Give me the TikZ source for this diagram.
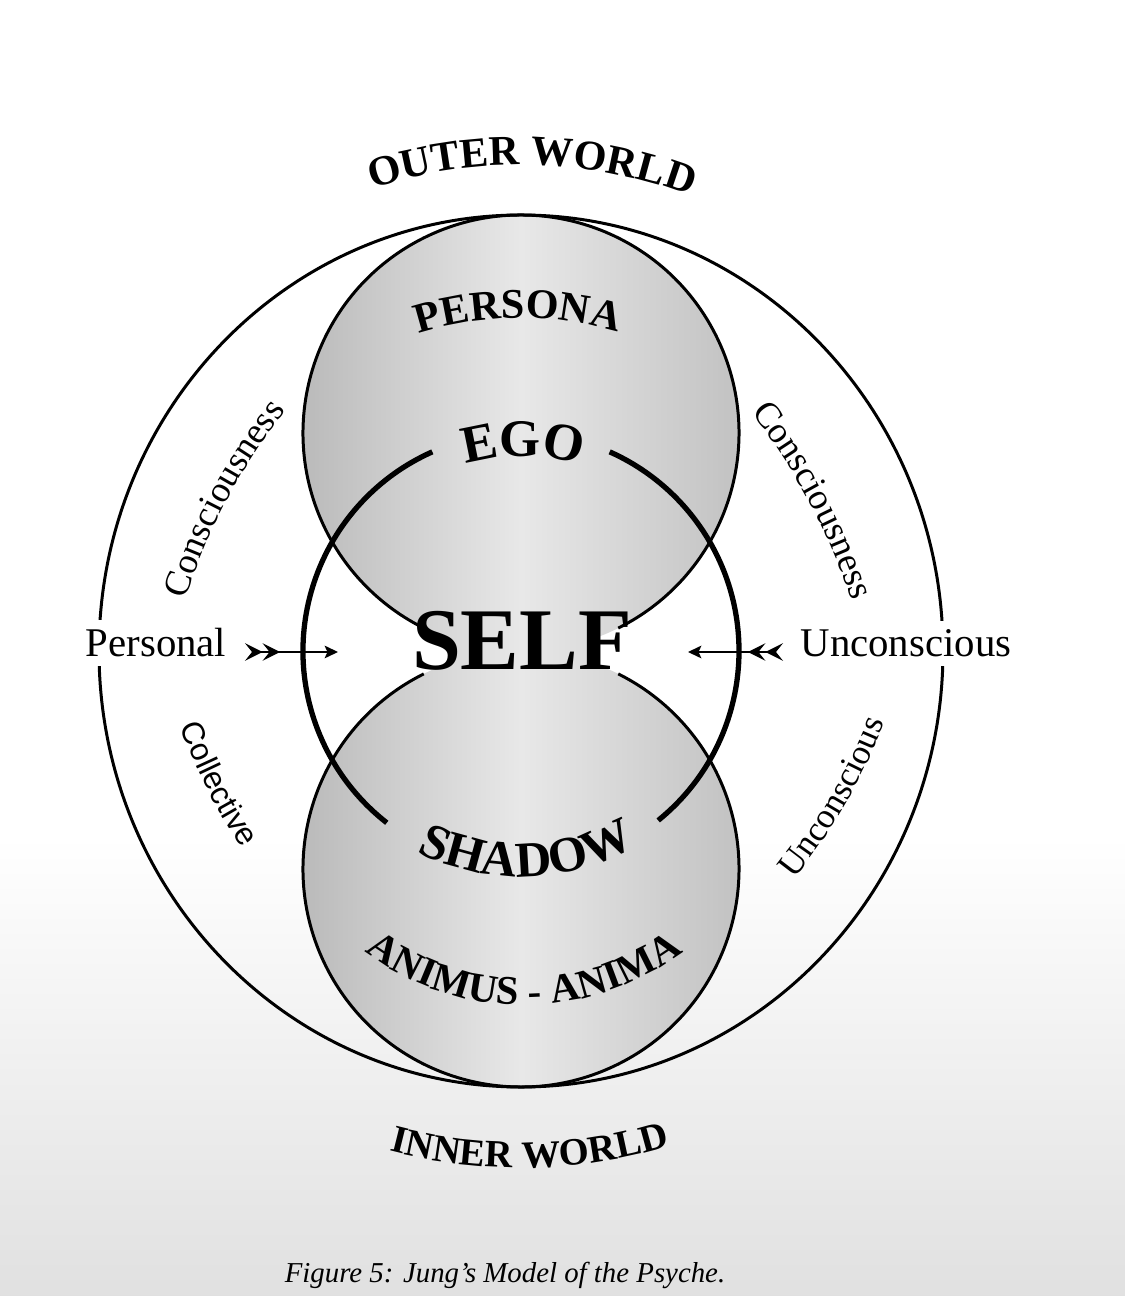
\documentclass[tikz,border=0pt]{standalone}
\usepackage{fontspec}
\setmainfont{Liberation Serif}
\newfontfamily\collfont{Liberation Sans}
\usetikzlibrary{positioning, arrows.meta, decorations.text}

\newcommand{\worldfont}{\bfseries\fontsize{12}{14}\selectfont}
\newcommand{\innerfont}{\bfseries\fontsize{11}{13}\selectfont}
\newcommand{\egofont}{\bfseries\fontsize{15}{17}\selectfont}
\newcommand{\shadowfont}{\bfseries\fontsize{14.3}{16}\selectfont}
\newcommand{\animafont}{\bfseries\fontsize{11.6}{13}\selectfont}
\newcommand{\consfont}{\fontsize{10.4}{12}\selectfont}
\newcommand{\uncfont}{\fontsize{10}{12}\selectfont}
\newcommand{\collfontsize}{\collfont\fontsize{9}{11}\selectfont}

\tikzset{
  ring/.style={line width=0.85pt},
  selfring/.style={line width=1.5pt},
  psyche/.style={left color=black!27, right color=black!24, middle color=black!9},
  curved/.style={decorate, decoration={text along path, text align=center, text={#1}}},
  side/.style={fill=white, inner xsep=1pt, inner ysep=2.5pt, font=\fontsize{11.6}{13}\selectfont},
  flight/.style={line width=0.45pt,
    {Stealth[reversed,length=5pt,width=5pt,inset=2pt]Stealth[reversed,length=5pt,width=5pt,inset=2pt]}-{Stealth[length=3.8pt,width=3.6pt,inset=0.8pt]}},
}

\begin{document}
\begin{tikzpicture}[x=0.01cm, y=0.01cm]
  % page
  \useasboundingbox (0,0) rectangle (1125,1296);
  \fill[white] (0,0) rectangle (1125,1296);
  \shade[top color=white, bottom color=black!12] (0,0) rectangle (1125,460);

  % ego and shadow spheres, outline open under SELF
  \shade[psyche] (521,863) circle[radius=218];
  \shade[psyche] (521,427) circle[radius=218];
  \begin{scope}
    \clip (452,630) rectangle (592,666);
    \shade[psyche] (303,630) rectangle (739,666);
  \end{scope}
  \draw[ring, shift={(521,863)}] (-63.5:218) arc[start angle=-63.5, end angle=243.5, radius=218];
  \draw[ring, shift={(521,427)}] (116.5:218) arc[start angle=116.5, end angle=423.5, radius=218];

  % outer boundary
  \draw[ring] (521,645) ellipse[x radius=422, y radius=436];

  % the self, broken at EGO and SHADOW
  \draw[selfring, shift={(521,645)}] (114:218) arc[start angle=114, end angle=232, radius=218];
  \draw[selfring, shift={(521,645)}] (-51:218) arc[start angle=-51, end angle=66, radius=218];

  % curved labels
  \path[curved={|\worldfont|OUTER WORLD}, shift={(521,645)}] (118.7:486) arc[start angle=118.7, end angle=58.7, radius=486];
  \path[curved={|\worldfont|PERSONA}, shift={(521,645)}] (125.5:333) arc[start angle=125.5, end angle=55.5, radius=333];
  \path[curved={|\egofont|EGO}, shift={(521,645)}] (119.4:195) arc[start angle=119.4, end angle=59.4, radius=195];
  \path[curved={|\shadowfont|SHADOW}, shift={(521,645)}] (226.6:226) arc[start angle=226.6, end angle=316.6, radius=226];
  \path[curved={|\animafont|ANIMUS - ANIMA}, shift={(524,556)}] (215:265) arc[start angle=215, end angle=325, radius=265];
  \path[curved={|\innerfont|INNER WORLD}, shift={(521,645)}] (240:517) arc[start angle=240, end angle=302, radius=517];

  % side labels
  \path[curved={|\consfont|Consciousness}, shift={(757,514)}] (172:600) arc[start angle=172, end angle=132, radius=600];
  \path[curved={|\consfont|Consciousness}, shift={(280,512)}] (48:600) arc[start angle=48, end angle=8, radius=600];
  \path[curved={|\collfontsize|Collective}, shift={(742,779)}] (190:600) arc[start angle=190, end angle=224, radius=600];
  \path[curved={|\uncfont|Unconscious}, shift={(326,792)}] (-45:600) arc[start angle=-45, end angle=-15, radius=600];

  \node[font=\bfseries\fontsize{25}{28}\selectfont] (self) at (522,655) {SELF};
  \node[side, anchor=base] (personal) at (156,639) {Personal};
  \node[side, anchor=base] (unconscious) at (906,639) {Unconscious};

  % arrows towards the self
  \coordinate (ptail) at (245,644);
  \coordinate (ptip) at (338,644);
  \coordinate (utail) at (783,644);
  \coordinate (utip) at (688,644);
  \draw[flight] (ptail) -- (ptip);
  \draw[flight] (utail) -- (utip);

  \node[anchor=base, font=\itshape\fontsize{8.2}{10}\selectfont] (caption) at (505,14) {Figure 5: Jung's Model of the Psyche.};
\end{tikzpicture}
\end{document}
